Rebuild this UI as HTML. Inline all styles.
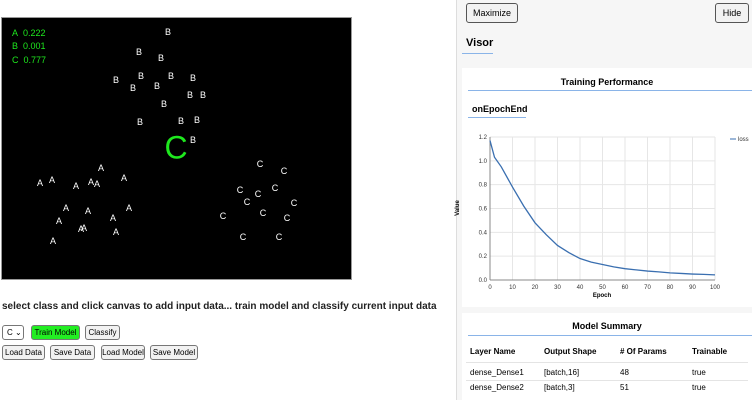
<!DOCTYPE html>
<html><head><meta charset="utf-8"><style>
body{margin:0;width:752px;height:400px;overflow:hidden;background:#fff;font-family:"Liberation Sans",sans-serif;position:relative}
.abs{position:absolute}
button{position:absolute;font-family:"Liberation Sans",sans-serif;font-size:8px;border:1px solid #777;border-radius:3px;background:#f2f2f2;padding:0;height:15px;white-space:nowrap;overflow:hidden;line-height:13px}
.pt{position:absolute;color:#fff;font-size:9px;transform:translate(-50%,-50%)}
</style></head><body>
<div class="abs" style="left:1px;top:17px;width:351px;height:263px;background:#000;border:1px solid #999;box-sizing:border-box"></div>
<div id="pts"></div>
<div class="abs" style="left:12px;top:27px;color:#1ee81e;font-size:9px;line-height:13.3px">A&nbsp;&nbsp;0.222<br>B&nbsp;&nbsp;0.001<br>C&nbsp;&nbsp;0.777</div>
<div class="abs" style="left:176px;top:148px;transform:translate(-50%,-50%);color:#1ee81e;font-size:32px">C</div>
<div class="abs" style="left:2px;top:301px;font-size:10px;font-weight:bold;color:#222;white-space:nowrap">select class and click canvas to add input data... train model and classify current input data</div>
<div class="abs" style="left:2px;top:325px;width:22px;height:15px;font-size:8px;border:1px solid #777;border-radius:3px;box-sizing:border-box;line-height:13px;padding-left:4px;background:#fff">C&nbsp;&#8964;</div>
<button style="left:31px;top:325px;width:49px;background:#22ee22">Train Model</button>
<button style="left:85px;top:325px;width:35px">Classify</button>
<button style="left:2px;top:345px;width:43px">Load Data</button>
<button style="left:50px;top:345px;width:45px">Save Data</button>
<button style="left:101px;top:345px;width:44px">Load Model</button>
<button style="left:150px;top:345px;width:48px">Save Model</button>

<div class="abs" style="left:456px;top:0;width:296px;height:400px;background:#f6f6f6;border-left:1px solid #ddd"></div>
<button style="left:466px;top:3px;width:52px;height:20px;border:1px solid #555;font-size:9px;line-height:18px">Maximize</button>
<button style="left:715px;top:3px;width:34px;height:20px;border:1px solid #555;font-size:9px;line-height:18px">Hide</button>
<div class="abs" style="left:466px;top:37px;font-size:11px;font-weight:bold">Visor</div>
<div class="abs" style="left:462px;top:53px;width:31px;height:1px;background:#8ab4e8"></div>
<div class="abs" style="left:462px;top:68px;width:290px;height:239px;background:#fff"></div>
<div class="abs" style="left:462px;top:77px;width:290px;text-align:center;font-size:9px;font-weight:bold">Training Performance</div>
<div class="abs" style="left:468px;top:90px;width:284px;height:1px;background:#8ab4e8"></div>
<div class="abs" style="left:472px;top:104px;font-size:9px;font-weight:bold">onEpochEnd</div>
<div class="abs" style="left:468px;top:117px;width:58px;height:1px;background:#8ab4e8"></div>
<svg class="abs" style="left:0;top:0" width="752" height="400">
<g id="grid"></g><g id="ax"></g><path id="line" fill="none" stroke="#3a6fb0" stroke-width="1.3"/>
<text x="459" y="208" font-size="6" font-weight="bold" transform="rotate(-90 459 208)" text-anchor="middle">Value</text>
<text x="602" y="297" font-size="6" font-weight="bold" text-anchor="middle">Epoch</text>
<line x1="730" y1="139" x2="736" y2="139" stroke="#3a6fb0"/>
<text x="738" y="141" font-size="6" fill="#333">loss</text>
</svg>
<div class="abs" style="left:462px;top:313px;width:290px;height:87px;background:#fff"></div>
<div class="abs" style="left:462px;top:321px;width:290px;text-align:center;font-size:9px;font-weight:bold">Model Summary</div>
<div class="abs" style="left:468px;top:335px;width:284px;height:1px;background:#8ab4e8"></div>
<div class="abs" style="left:470px;top:347px;font-size:8px;width:280px">
<div style="position:absolute;top:0;font-weight:bold;white-space:nowrap"><span style="position:absolute;left:0">Layer Name</span><span style="position:absolute;left:74px">Output Shape</span><span style="position:absolute;left:150px">#&nbsp;Of&nbsp;Params</span><span style="position:absolute;left:222px">Trainable</span></div>
<div style="position:absolute;top:15px;left:-4px;width:282px;height:1px;background:#e4e4e4"></div>
<div style="position:absolute;top:21px;white-space:nowrap"><span style="position:absolute;left:0">dense_Dense1</span><span style="position:absolute;left:74px">[batch,16]</span><span style="position:absolute;left:150px">48</span><span style="position:absolute;left:222px">true</span></div>
<div style="position:absolute;top:33px;left:-4px;width:282px;height:1px;background:#e4e4e4"></div>
<div style="position:absolute;top:36px;white-space:nowrap"><span style="position:absolute;left:0">dense_Dense2</span><span style="position:absolute;left:74px">[batch,3]</span><span style="position:absolute;left:150px">51</span><span style="position:absolute;left:222px">true</span></div>
</div>
<script>
const epochs=[0,2,5,10,15,20,25,30,35,40,45,50,55,60,65,70,75,80,85,90,95,100];
const loss=[1.17,1.03,0.95,0.78,0.62,0.48,0.38,0.29,0.23,0.18,0.15,0.13,0.11,0.095,0.085,0.075,0.068,0.06,0.055,0.05,0.047,0.043];
const xTicks=[0,10,20,30,40,50,60,70,80,90,100];
const yTicks=[0,0.2,0.4,0.6,0.8,1.0,1.2];
const A=[[40,183],[52,180],[101,168],[124,178],[91,182],[97,184],[76,186],[66,208],[88,211],[129,208],[59,221],[113,218],[81,229],[84,228],[116,232],[53,241]];
const B=[[168,32],[139,52],[161,58],[116,80],[141,76],[171,76],[193,78],[133,88],[157,86],[190,95],[203,95],[164,104],[140,122],[181,121],[197,120],[193,140]];
const C=[[260,164],[284,171],[240,190],[258,194],[275,188],[247,202],[294,203],[263,213],[287,218],[223,216],[243,237],[279,237]];
const X=e=>490+e*2.25, Y=v=>280-v/1.2*143;
const NS="http://www.w3.org/2000/svg";
const g=document.getElementById('grid'),ax=document.getElementById('ax');
function mk(p,t,a){const e=document.createElementNS(NS,t);for(const k in a)e.setAttribute(k,a[k]);p.appendChild(e);return e;}
xTicks.forEach(t=>{const l=mk(g,'line',{x1:X(t),x2:X(t),y1:Y(1.2),y2:280,stroke:'#e6e6e6'});


const tx=mk(ax,'text',{x:X(t),y:289,'font-size':6,'text-anchor':'middle',fill:'#333'});tx.textContent=t;

});
yTicks.forEach(t=>{const l=mk(g,'line',{x1:490,x2:X(100),y1:Y(t),y2:Y(t),stroke:'#e6e6e6'});


const tx=mk(ax,'text',{x:487,y:Y(t)+2,'font-size':6,'text-anchor':'end',fill:'#333'});tx.textContent=t.toFixed(1);

});
mk(ax,'line',{x1:490,x2:490,y1:Y(1.2),y2:280,stroke:'#888'});
mk(ax,'line',{x1:490,x2:X(100),y1:280,y2:280,stroke:'#888'});
document.getElementById('line').setAttribute('d',epochs.map((e,i)=>(i?'L':'M')+X(e)+' '+Y(loss[i])).join(''));
const pts=document.getElementById('pts');
[[A,'A'],[B,'B'],[C,'C']].forEach(([arr,l])=>arr.forEach(p=>{const d=document.createElement('div');d.className='pt';d.style.left=p[0]+'px';d.style.top=p[1]+'px';d.textContent=l;


pts.appendChild(d);}));
</script>
</body></html>
